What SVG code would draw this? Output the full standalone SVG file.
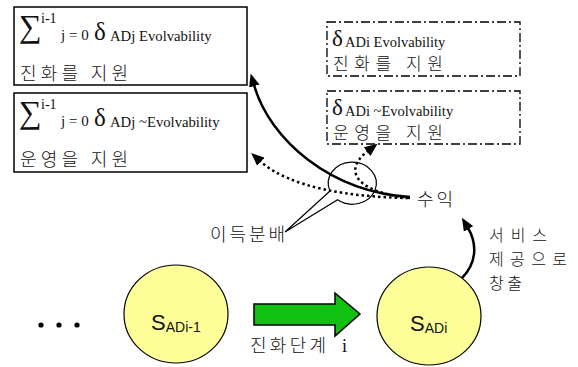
<svg xmlns="http://www.w3.org/2000/svg" width="578" height="367" viewBox="0 0 578 367">
<style>
.box{fill:#fff;stroke:#000;stroke-width:1.5}
.dbox{fill:#fff;stroke:#000;stroke-width:1.3;stroke-dasharray:9 3 2 3}
.ser{font-family:"Liberation Serif","Times New Roman",serif;fill:#111}
.kr{font-family:"Noto Sans CJK KR","Noto Sans CJK SC",sans-serif;font-size:18px;font-weight:300;fill:#111}
.sans{font-family:"Liberation Sans",Arial,sans-serif;fill:#111}
.node{fill:#ffff99;stroke:#000;stroke-width:1.2}
.bold{fill:none;stroke:#000;stroke-width:2.5}
.dot{fill:none;stroke:#000;stroke-width:2.5;stroke-dasharray:2.5 3}
</style>
<defs>
<marker id="ah" viewBox="0 0 12 10" refX="1" refY="5" markerWidth="13" markerHeight="11" markerUnits="userSpaceOnUse" orient="auto">
<path d="M0,0 L12,5 L0,10 z" fill="#000"/>
</marker>
</defs>

<g id="box-evol-sum">
<rect class="box" x="14" y="7" width="233" height="78"/>
<text class="ser"><tspan x="19" y="37" font-size="32">∑</tspan><tspan x="41" y="23" font-size="14">i-1</tspan><tspan x="61" y="40" font-size="15">j = 0</tspan><tspan x="94" y="40" font-size="25">δ</tspan><tspan x="110" y="41" font-size="14.7">ADj Evolvability</tspan></text>
<text class="kr" x="20" y="80" textLength="108" lengthAdjust="spacing">진화를 지원</text>
</g>

<g id="box-nonevol-sum">
<rect class="box" x="14" y="93" width="233" height="79"/>
<text class="ser"><tspan x="19" y="123" font-size="32">∑</tspan><tspan x="41" y="109" font-size="14">i-1</tspan><tspan x="61" y="126" font-size="15">j = 0</tspan><tspan x="94" y="126" font-size="25">δ</tspan><tspan x="110" y="127" font-size="14.7">ADj ~Evolvability</tspan></text>
<text class="kr" x="20" y="166" textLength="108" lengthAdjust="spacing">운영을 지원</text>
</g>

<g id="box-evol-i">
<rect class="dbox" x="327" y="22" width="193" height="54"/>
<text class="ser"><tspan x="332" y="46" font-size="23">δ</tspan><tspan x="345" y="47" font-size="14.5">ADi Evolvability</tspan></text>
<text class="kr" x="333" y="70" font-size="17" textLength="110" lengthAdjust="spacing" style="font-size:17px">진화를 지원</text>
</g>

<g id="box-nonevol-i">
<rect class="dbox" x="327" y="91" width="193" height="53"/>
<text class="ser"><tspan x="332" y="115" font-size="23">δ</tspan><tspan x="345" y="116" font-size="14.5">ADi ~Evolvability</tspan></text>
<text class="kr" x="333" y="139" textLength="110" lengthAdjust="spacing" style="font-size:17px">운영을 지원</text>
</g>

<g id="callout">
<path d="M330,191 L285,232 L337.6,199.8 A24 21 0 1 0 330,191" fill="none" stroke="#000" stroke-width="1.2"/>
<text class="kr" x="210" y="241" textLength="75" lengthAdjust="spacing">이득분배</text>
</g>

<g id="revenue">
<text class="kr" x="417" y="206" textLength="36" lengthAdjust="spacing">수익</text>
</g>

<g id="dots">
<circle cx="41" cy="325" r="2.6"/>
<circle cx="59" cy="325" r="2.6"/>
<circle cx="77" cy="325" r="2.6"/>
</g>

<g id="node-prev">
<ellipse class="node" cx="176" cy="314" rx="52" ry="49"/>
<text class="sans" x="151" y="330" font-size="22">S<tspan font-size="14" dy="2">ADi-1</tspan></text>
</g>

<g id="node-cur">
<ellipse class="node" cx="429" cy="316" rx="52" ry="49"/>
<text class="sans" x="410" y="331" font-size="22">S<tspan font-size="14" dy="2">ADi</tspan></text>
</g>

<g id="stage-arrow">
<polygon points="254,304 335,304 335,293 360,314 335,336 335,325 254,325" fill="#11c011" stroke="#000" stroke-width="1.5"/>
<text class="kr" x="250" y="352" textLength="76" lengthAdjust="spacing">진화단계</text>
<text class="ser" x="342" y="352" font-size="18">i</text>
</g>

<g id="service-label">
<text class="kr" x="489" y="241" textLength="58" lengthAdjust="spacing" style="font-size:16px">서비스</text>
<text class="kr" x="489" y="265" textLength="78" lengthAdjust="spacing" style="font-size:16px">제공으로</text>
<text class="kr" x="489" y="289" textLength="33" lengthAdjust="spacing" style="font-size:16px">창출</text>
</g>

<g id="connectors">
<path class="bold" d="M410,197 C330,192 270,140 254,85" marker-end="url(#ah)"/>
<path class="dot" d="M408,198 C350,197 290,188 260,161" marker-end="url(#ah)"/>
<path class="dot" d="M410,198 C360,193 340,172 368,151" marker-end="url(#ah)"/>
<path class="bold" d="M462,278 C476,264 478,245 468,228" marker-end="url(#ah)"/>
</g>
</svg>
